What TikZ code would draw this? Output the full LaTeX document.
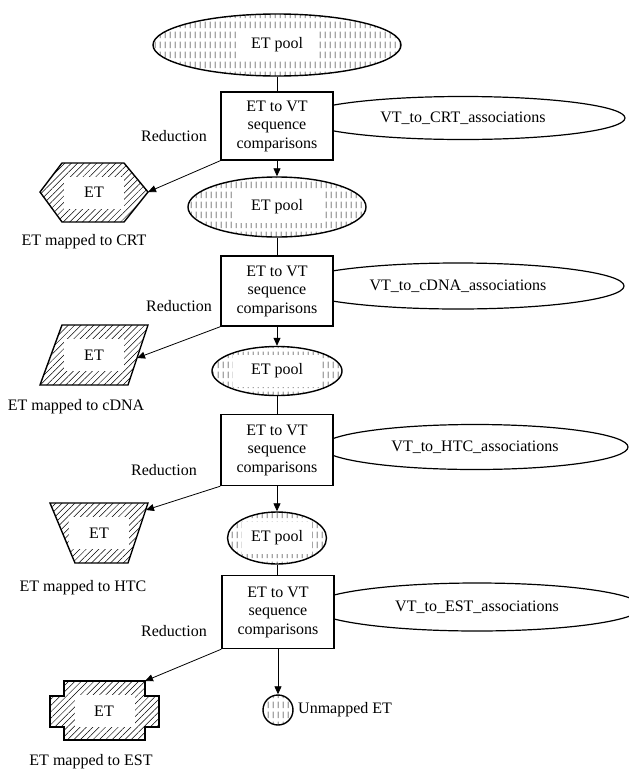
\documentclass[tikz,border=0pt]{standalone}
\usepackage{fontspec}
\setmainfont{Liberation Serif}
\usetikzlibrary{shapes.geometric,positioning,arrows.meta,patterns.meta}

\tikzdeclarepattern{
  name=vdashes,
  type=uncolored,
  bounding box={(0pt,0pt) and (4.5pt,10pt)},
  tile size={(4.5pt,10pt)},
  code={\draw[line width=0.5pt] (2.25pt,1pt) -- (2.25pt,8pt);}
}

\tikzset{
  pool/.style={ellipse, draw, line width=1.4pt, pattern=vdashes, inner sep=0pt},
  whitegap/.style={path picture={\fill[white] ([xshift=-#1,yshift=-16pt]path picture bounding box.center) rectangle ([xshift=#1,yshift=16pt]path picture bounding box.center);}},
  compbox/.style={draw, fill=white, line width=1.4pt, align=center, minimum width=112pt, minimum height=70pt, inner sep=0pt},
  assoc/.style={ellipse, draw, fill=white, line width=1.2pt, inner sep=0pt},
  etshape/.style={line width=1.4pt, pattern={Lines[angle=45,distance=4.5pt,line width=0.5pt]}, whitegap=30pt},
  arr/.style={line width=0.8pt, -{Triangle[length=8pt,width=7pt]}},
  link/.style={line width=0.8pt}
}

\begin{document}
\begin{tikzpicture}[x=1pt, y=-1pt, font=\fontsize{16}{18.5}\selectfont]
    \useasboundingbox (0,0) rectangle (629,769);

    % Association tables (behind the boxes)
    \node[assoc, minimum width=324pt, minimum height=43pt] (crtassoc) at (463,118) {VT\_to\_CRT\_associations};
    \node[assoc, minimum width=332pt, minimum height=46pt] (cdnaassoc) at (458,286) {VT\_to\_cDNA\_associations};
    \node[assoc, minimum width=306pt, minimum height=45pt] (htcassoc) at (475,447) {VT\_to\_HTC\_associations};
    \node[assoc, minimum width=330pt, minimum height=48pt] (estassoc) at (477,607) {VT\_to\_EST\_associations};

    % Comparison steps
    \node[compbox, minimum height=68pt] (box1) at (277,126) {ET to VT\\sequence\\comparisons};
    \node[compbox] (box2) at (277,291) {ET to VT\\sequence\\comparisons};
    \node[compbox, minimum height=71pt] (box3) at (277,450) {ET to VT\\sequence\\comparisons};
    \node[compbox, minimum height=73pt] (box4) at (278,612) {ET to VT\\sequence\\comparisons};

    % ET pools
    \node[pool, whitegap=40pt, minimum width=248pt, minimum height=62pt] (pool1) at (277,45) {ET pool};
    \node[pool, whitegap=45pt, minimum width=178pt, minimum height=60pt] (pool2) at (277,207) {ET pool};
    \node[pool, whitegap=44pt, minimum width=130pt, minimum height=49pt] (pool3) at (277,371) {ET pool};
    \node[pool, whitegap=35pt, minimum width=99pt, minimum height=52pt] (pool4) at (277,538) {ET pool};
    \node[pool, circle, minimum size=30pt] (unmapped) at (278,710) {};
    \node[right=1pt of unmapped] (unmappedlabel) {Unmapped ET};

    % Main flow
    \draw[link] (pool1.south) -- (box1.north);
    \draw[arr] (box1.south) -- (pool2.north);
    \draw[link] (pool2.south) -- (box2.north);
    \draw[arr] (box2.south) -- (pool3.north);
    \draw[link] (pool3.south) -- (box3.north);
    \draw[arr] (box3.south) -- (pool4.north);
    \draw[link] (pool4.south) -- (box4.north -| pool4.south);
    \draw[arr] (box4.south) -- (unmapped.north);

    % Mapped ET
    \draw[etshape] (40,192) -- (62,163) -- (124,163) -- (148,192) -- (124,222) -- (62,222) -- cycle;
    \node (crt) at (94,192) {ET};
    \coordinate (crtin) at (148,192);
    \node (crtlabel) at (84,242) {ET mapped to CRT};

    \draw[etshape] (62,325) -- (148,325) -- (128,385) -- (40,385) -- cycle;
    \node (cdna) at (94,355) {ET};
    \coordinate (cdnain) at (137,358);
    \node (cdnalabel) at (76,407) {ET mapped to cDNA};

    \draw[etshape] (50,503) -- (148,503) -- (128,563) -- (75,563) -- cycle;
    \node (htc) at (99,533) {ET};
    \coordinate (htcin) at (146,510);
    \node (htclabel) at (83,588) {ET mapped to HTC};

    \draw[etshape] (64,681) -- (145,681) -- (145,696) -- (159,696) -- (159,727) -- (145,727)
        -- (145,740) -- (64,740) -- (64,727) -- (50,727) -- (50,696) -- (64,696) -- cycle;
    \node (est) at (104,711) {ET};
    \coordinate (estin) at (145,681);
    \node (estlabel) at (91,762) {ET mapped to EST};

    % Reductions
    \node (red1) at (174,136) {Reduction};
    \node (red2) at (179,306) {Reduction};
    \node (red3) at (164,470) {Reduction};
    \node (red4) at (174,631) {Reduction};
    \draw[arr] (box1.south west) -- (crtin);
    \draw[arr] (box2.south west) -- (cdnain);
    \draw[arr] (box3.south west) -- (htcin);
    \draw[arr] (box4.south west) -- (estin);
\end{tikzpicture}
\end{document}
